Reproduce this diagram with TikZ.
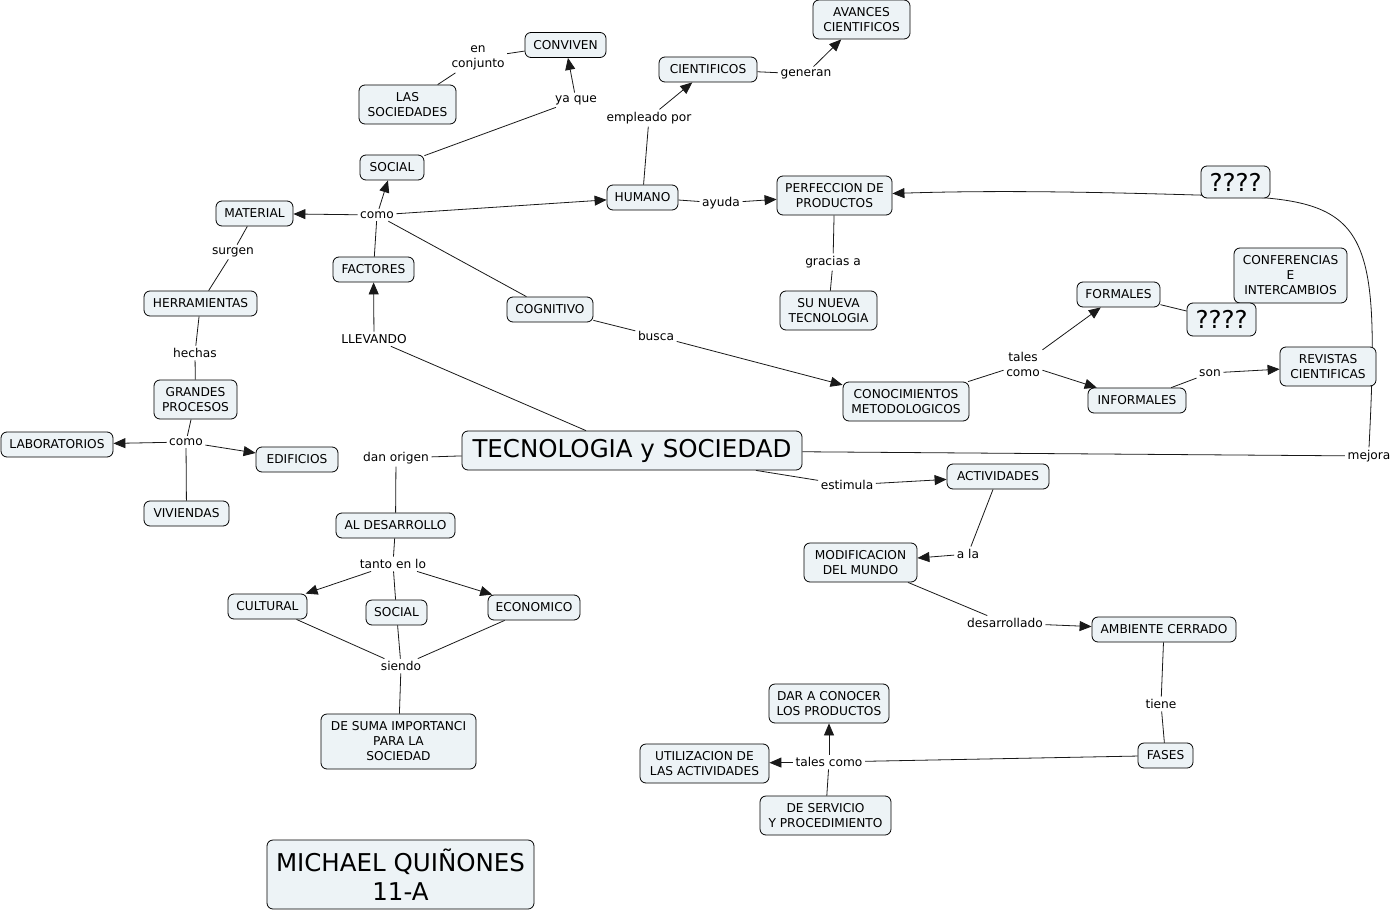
\documentclass[tikz,border=0pt]{standalone}
\usepackage{fontspec}
\setmainfont{DejaVu Sans}
\usetikzlibrary{arrows.meta}
\definecolor{boxfill}{RGB}{237,243,246}
\definecolor{edgecol}{RGB}{25,25,25}
\pgfdeclarelayer{bg}
\pgfsetlayers{bg,main}
\newcommand{\nf}{\fontsize{12.2}{15}\selectfont}
\newcommand{\bigf}{\fontsize{24.5}{29}\selectfont}
\begin{document}
\begin{tikzpicture}[x=1pt,y=-1pt,
  concept/.style={draw=black, fill=boxfill, rounded corners=6pt, line width=0.8pt, inner sep=1pt, align=center, font=\nf},
  bigconcept/.style={concept, font=\bigf},
  linkw/.style={inner sep=2.5pt, align=center, font=\nf},
  ln/.style={draw=edgecol, line width=0.8pt},
  ar/.style={ln, -{Triangle[length=12pt,width=10pt]}},
]
\useasboundingbox (0,0) rectangle (1394,912);

% concepts
\node[concept, minimum width=81, minimum height=25] (conviven) at (565.5,45) {CONVIVEN};
\node[concept, minimum width=97, minimum height=39] (avances) at (861.5,19.5) {AVANCES\\CIENTIFICOS};
\node[concept, minimum width=98, minimum height=25] (cientificos) at (708,69.5) {CIENTIFICOS};
\node[concept, minimum width=97, minimum height=39] (lassoc) at (407.5,104.5) {LAS\\SOCIEDADES};
\node[concept, minimum width=64, minimum height=25] (social1) at (392,167.5) {SOCIAL};
\node[concept, minimum width=71, minimum height=25] (humano) at (642.5,197.5) {HUMANO};
\node[concept, minimum width=115, minimum height=39] (perf) at (834.5,195.5) {PERFECCION DE\\PRODUCTOS};
\node[bigconcept, minimum width=69, minimum height=32] (qq1) at (1235.5,182) {????};
\node[concept, minimum width=77, minimum height=25] (material) at (254.5,213.5) {MATERIAL};
\node[concept, minimum width=81, minimum height=25] (factores) at (373.5,269.5) {FACTORES};
\node[concept, minimum width=113, minimum height=25] (herr) at (200.5,303.5) {HERRAMIENTAS};
\node[concept, minimum width=86, minimum height=25] (cognitivo) at (550,309.5) {COGNITIVO};
\node[concept, minimum width=97, minimum height=39] (sunueva) at (828.5,310.5) {SU NUEVA\\TECNOLOGIA};
\node[concept, minimum width=83, minimum height=25] (formales) at (1118.5,294.5) {FORMALES};
\node[concept, minimum width=113, minimum height=55] (conf) at (1290.5,275.5) {CONFERENCIAS\\E\\INTERCAMBIOS};
\node[bigconcept, minimum width=69, minimum height=33] (qq2) at (1221.5,319.5) {????};
\node[concept, minimum width=83, minimum height=39] (grandes) at (195.5,399.5) {GRANDES\\PROCESOS};
\node[concept, minimum width=126, minimum height=39] (conoc) at (906,401.5) {CONOCIMIENTOS\\METODOLOGICOS};
\node[concept, minimum width=98, minimum height=25] (informales) at (1137,400.5) {INFORMALES};
\node[concept, minimum width=96, minimum height=39] (revistas) at (1328,366.5) {REVISTAS\\CIENTIFICAS};
\node[concept, minimum width=112, minimum height=25] (labs) at (57,444.5) {LABORATORIOS};
\node[concept, minimum width=82, minimum height=25] (edificios) at (297,459.5) {EDIFICIOS};
\node[bigconcept, minimum width=340, minimum height=39] (tec) at (632,450.5) {TECNOLOGIA y SOCIEDAD};
\node[concept, minimum width=85, minimum height=25] (viviendas) at (186.5,513.5) {VIVIENDAS};
\node[concept, minimum width=102, minimum height=25] (actividades) at (998,476.5) {ACTIVIDADES};
\node[concept, minimum width=119, minimum height=25] (aldes) at (395.5,525.5) {AL DESARROLLO};
\node[concept, minimum width=113, minimum height=39] (modif) at (860.5,562.5) {MODIFICACION\\DEL MUNDO};
\node[concept, minimum width=79, minimum height=25] (cultural) at (267.5,606.5) {CULTURAL};
\node[concept, minimum width=61, minimum height=25] (social2) at (396.5,612.5) {SOCIAL};
\node[concept, minimum width=92, minimum height=25] (economico) at (534,607.5) {ECONOMICO};
\node[concept, minimum width=144, minimum height=25] (ambiente) at (1164,629.5) {AMBIENTE CERRADO};
\node[concept, minimum width=155, minimum height=55] (suma) at (398.5,741.5) {DE SUMA IMPORTANCI\\PARA LA\\SOCIEDAD};
\node[concept, minimum width=120, minimum height=39] (dar) at (829,703.5) {DAR A CONOCER\\LOS PRODUCTOS};
\node[concept, minimum width=129, minimum height=39] (utiliz) at (704.5,763.5) {UTILIZACION DE\\LAS ACTIVIDADES};
\node[concept, minimum width=55, minimum height=25] (fases) at (1165.5,755.5) {FASES};
\node[concept, minimum width=131, minimum height=39] (servicio) at (825.5,815.5) {DE SERVICIO\\Y PROCEDIMIENTO};
\node[bigconcept, minimum width=267, minimum height=69] (michael) at (400.5,874.5) {MICHAEL QUIÑONES\\11-A};

% linking phrases
\node[linkw] (enconj) at (478,58) {en\\conjunto};
\node[linkw] (yaque) at (576,100) {ya que};
\node[linkw] (generan) at (806,74) {generan};
\node[linkw] (empleado) at (649,118) {empleado por};
\node[linkw] (como1) at (377,215) {como};
\node[linkw] (ayuda) at (721,203) {ayuda};
\node[linkw] (gracias) at (833,262) {gracias a};
\node[linkw] (surgen) at (233,252) {surgen};
\node[linkw] (llevando) at (374,339) {LLEVANDO};
\node[linkw] (busca) at (656,336) {busca};
\node[linkw] (hechas) at (195,353) {hechas};
\node[linkw] (tales1) at (1023,364) {tales\\como};
\node[linkw] (son) at (1210,373) {son};
\node[linkw] (como2) at (186,442) {como};
\node[linkw] (danorigen) at (396,458) {dan origen};
\node[linkw] (mejora) at (1369,456) {mejora};
\node[linkw] (estimula) at (847,485) {estimula};
\node[linkw] (ala) at (968,554) {a la};
\node[linkw] (tanto) at (393,564) {tanto en lo};
\node[linkw] (desarrollado) at (1005,623) {desarrollado};
\node[linkw] (siendo) at (401,666) {siendo};
\node[linkw] (tiene) at (1161,704) {tiene};
\node[linkw] (tales2) at (829,762) {tales como};

\begin{pgfonlayer}{bg}
\fill[white] (0,0) rectangle (1394,912);
\draw[ln] (lassoc) -- (enconj);
\draw[ln] (enconj) -- (conviven);
\draw[ln] (social1) -- (yaque);
\draw[ar] (yaque) -- (conviven);
\draw[ln] (humano) -- (empleado);
\draw[ar] (empleado) -- (cientificos);
\draw[ln] (cientificos) -- (generan);
\draw[ar] (generan) -- (avances);
\draw[ln] (factores) -- (como1);
\draw[ar] (como1) -- (material);
\draw[ar] (como1) -- (social1);
\draw[ar] (como1) -- (humano);
\draw[ln] (como1) -- (cognitivo);
\draw[ln] (humano) -- (ayuda);
\draw[ar] (ayuda) -- (perf);
\draw[ln] (perf) -- (gracias);
\draw[ln] (gracias) -- (sunueva);
\draw[ln] (material) -- (surgen);
\draw[ln] (surgen) -- (herr);
\draw[ln] (herr) -- (hechas);
\draw[ln] (hechas) -- (grandes);
\draw[ln] (grandes) -- (como2);
\draw[ar] (como2) -- (labs);
\draw[ar] (como2) -- (edificios);
\draw[ln] (como2) -- (viviendas);
\draw[ln] (tec) -- (llevando);
\draw[ar] (llevando) -- (factores);
\draw[ln] (cognitivo) -- (busca);
\draw[ar] (busca) -- (conoc);
\draw[ln] (conoc) -- (tales1);
\draw[ar] (tales1) -- (formales);
\draw[ar] (tales1) -- (informales);
\draw[ln] (informales) -- (son);
\draw[ar] (son) -- (revistas);
\draw[ln] (formales) -- (qq2);
\draw[ar] (qq2) -- (conf);
\draw[ln] (tec) -- (mejora);
\draw[ar] (mejora.north) .. controls (1380,230) and (1370,200) .. (1230,196)
      .. controls (1100,192) and (1000,190) .. ([yshift=2pt]perf.east);
\draw[ln] (tec) -- (danorigen);
\draw[ln] (danorigen) -- (aldes);
\draw[ln] (aldes) -- (tanto);
\draw[ar] (tanto) -- (cultural);
\draw[ar] (tanto) -- (economico);
\draw[ln] (tanto) -- (social2);
\draw[ln] (cultural) -- (siendo);
\draw[ln] (social2) -- (siendo);
\draw[ln] (economico) -- (siendo);
\draw[ln] (siendo) -- (suma);
\draw[ln] (tec) -- (estimula);
\draw[ar] (estimula) -- (actividades);
\draw[ln] (actividades) -- (ala);
\draw[ar] (ala) -- (modif);
\draw[ln] (modif) -- (desarrollado);
\draw[ar] (desarrollado) -- (ambiente);
\draw[ln] (ambiente) -- (tiene);
\draw[ln] (tiene) -- (fases);
\draw[ln] (fases) -- (tales2);
\draw[ar] (tales2) -- (utiliz);
\draw[ar] (tales2) -- (dar);
\draw[ln] (tales2) -- (servicio);
\end{pgfonlayer}
\end{tikzpicture}
\end{document}
